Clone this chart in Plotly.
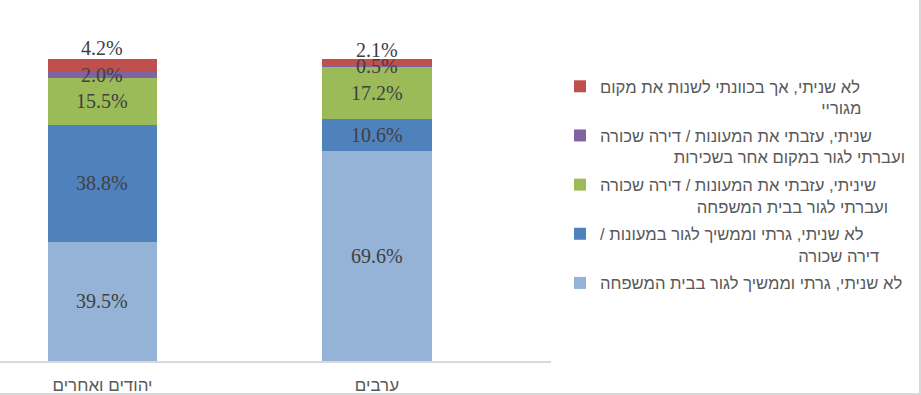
import plotly.graph_objects as go

# ---------------- data ----------------
categories = ["יהודים ואחרים", "ערבים"]

NB = "\u00a0"  # padding used to right-align wrapped legend lines (RTL text)
series_names = [
    "לא שניתי, גרתי וממשיך לגור בבית המשפחה",
    "לא שניתי, גרתי וממשיך לגור במעונות /\u200f<br>" + NB * 43 + "דירה שכורה",
    "שיניתי, עזבתי את המעונות / דירה שכורה<br>" + NB * 21 + "ועברתי לגור בבית המשפחה",
    "שניתי, עזבתי את המעונות / דירה שכורה<br>" + NB * 16 + "ועברתי לגור במקום אחר בשכירות",
    "לא שניתי, אך בכוונתי לשנות את מקום<br>" + NB * 48 + "מגוריי",
]

stay_family = [39.5, 69.6]
stay_dorm = [38.8, 10.6]
moved_family = [15.5, 17.2]
moved_rent = [2.0, 0.5]
intend_move = [4.2, 2.1]

series_values = [stay_family, stay_dorm, moved_family, moved_rent, intend_move]

# ---------------- style ----------------
colors = ["#95B3D7", "#4F81BD", "#9BBB59", "#8064A2", "#C0504D"]
label_shift = {(4, 0): 17, (4, 1): 12}  # pixel nudges for crowded top labels

W, H = 921, 395
M = dict(l=0, r=370, t=59, b=34, autoexpand=False)
plot_w = W - M["l"] - M["r"]
plot_h = H - M["t"] - M["b"]

fig = go.Figure()
n = len(series_values)
for i, (name, vals, col) in enumerate(zip(series_names, series_values, colors)):
    fig.add_trace(go.Bar(
        x=categories, y=vals, name=name, width=0.4,
        marker=dict(color=col, line=dict(width=0)),
        legendgroup=f"g{i}", legendrank=n - i, hoverinfo="skip",
    ))

annotations = []
for i, vals in enumerate(series_values):
    for j, cat in enumerate(categories):
        base = sum(series_values[k][j] for k in range(i))
        annotations.append(dict(
            x=cat, y=base + vals[j] / 2, xref="x", yref="y",
            text=f"{vals[j]:.1f}%", showarrow=False,
            yshift=label_shift.get((i, j), 0),
            font=dict(family="Liberation Serif, DejaVu Serif, serif", size=20, color="#404040"),
        ))

def px_x(p):
    return (p - M["l"]) / plot_w

def px_y(p):
    return (H - M["b"] - p) / plot_h

border = dict(color="#d9d9d9", width=2)
shapes = [
    dict(type="line", xref="paper", yref="paper", x0=px_x(920), x1=px_x(920),
         y0=px_y(0), y1=px_y(395), line=border),
    dict(type="line", xref="paper", yref="paper", x0=px_x(0), x1=px_x(921),
         y0=px_y(394), y1=px_y(394), line=border),
]

fig.update_layout(
    width=W, height=H, margin=M,
    paper_bgcolor="white", plot_bgcolor="white",
    barmode="stack", showlegend=True,
    annotations=annotations, shapes=shapes,
    font=dict(family="Liberation Sans, Arial, DejaVu Sans, sans-serif", color="#595959"),
    xaxis=dict(
        type="category", range=[-0.3734, 1.634], showgrid=False, zeroline=False,
        showline=True, linecolor="#d9d9d9", linewidth=1.5, ticks="",
        tickfont=dict(size=17, color="#595959"), ticklabelstandoff=8,
        fixedrange=True,
    ),
    yaxis=dict(range=[0, 100], visible=False, fixedrange=True),
    legend=dict(
        x=px_x(560), xanchor="left", y=px_y(69), yanchor="top",
        traceorder="grouped", tracegroupgap=3, valign="top",
        font=dict(size=16.6, color="#595959"), bgcolor="rgba(0,0,0,0)",
    ),
)

fig.write_html("out.html", config={"displayModeBar": False},
               post_script="document.body.style.margin='0px';")
